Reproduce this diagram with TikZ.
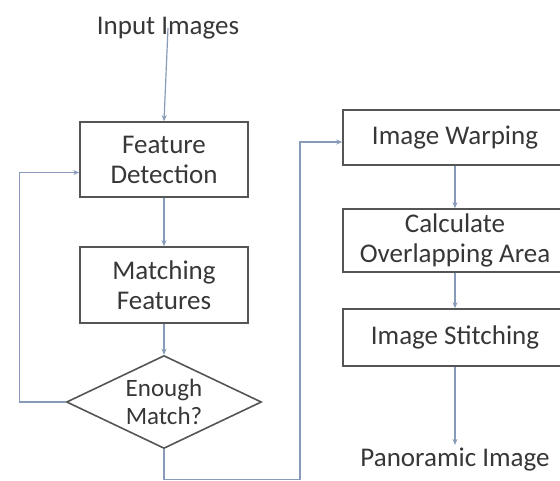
\documentclass[tikz,border=0pt]{standalone}
\usepackage{fontspec}
\setmainfont{Carlito}
\usetikzlibrary{
    shapes.geometric,
    arrows.meta,
    positioning
}
\definecolor{boxgray}{RGB}{85, 85, 85}
\definecolor{textgray}{RGB}{55, 55, 55}
\definecolor{linkblue}{RGB}{135, 155, 185}

\begin{document}
\begin{tikzpicture}[
        x=1pt, y=-1pt,
        box/.style={rectangle, draw=boxgray, line width=1.6pt, inner sep=1pt, align=center, text=textgray, font=\fontsize{27}{30}\selectfont},
        decision/.style={diamond, draw=boxgray, line width=1.6pt, inner sep=0pt, minimum width=195pt, minimum height=93pt},
        plain/.style={text=textgray, font=\fontsize{27}{30}\selectfont},
        arrow/.style={-{Stealth[length=6pt, width=5pt]}, linkblue, line width=1.2pt}
    ]
        \useasboundingbox (0,0) rectangle (560,480);

        % Left column: detection and matching
        \node[plain] (in) at (168,28) {Input Images};
        \node[box, minimum width=168pt, minimum height=75pt] (fd) at (164,159.5) {Feature\\Detection};
        \node[box, minimum width=168pt, minimum height=76pt] (mf) at (164,285) {Matching\\Features};
        \node[decision, label={[plain, align=center, font=\fontsize{25}{28}\selectfont]center:Enough\\Match?}] (dec) at (164,402) {};

        % Right column: warping and stitching
        \node[box, minimum width=224pt, minimum height=55pt] (iw) at (455,137.5) {Image Warping};
        \node[box, minimum width=224pt, minimum height=63pt] (ca) at (455,240.5) {Calculate\\Overlapping Area};
        \node[box, minimum width=224pt, minimum height=57pt] (is) at (455,337.5) {Image Stitching};
        \node[plain] (pano) at (455,460) {Panoramic Image};

        % Arrows - main flow
        \draw[arrow] (in.center) -- (fd.north);
        \draw[arrow] (fd) -- (mf);
        \draw[arrow] (mf) -- (dec.north);
        \draw[arrow] (iw) -- (ca);
        \draw[arrow] (ca) -- (is);
        \draw[arrow] (is) -- (pano.north);

        % Not enough matches - back to detection
        \draw[arrow] (dec.west) -- ++(-46,0) |- ([yshift=-13pt]fd.west);

        % Enough matches - over to warping
        \draw[arrow] (dec.south) -- ++(0,30) -- ++(136,0) |- ([yshift=-4.5pt]iw.west);
    \end{tikzpicture}
\end{document}
